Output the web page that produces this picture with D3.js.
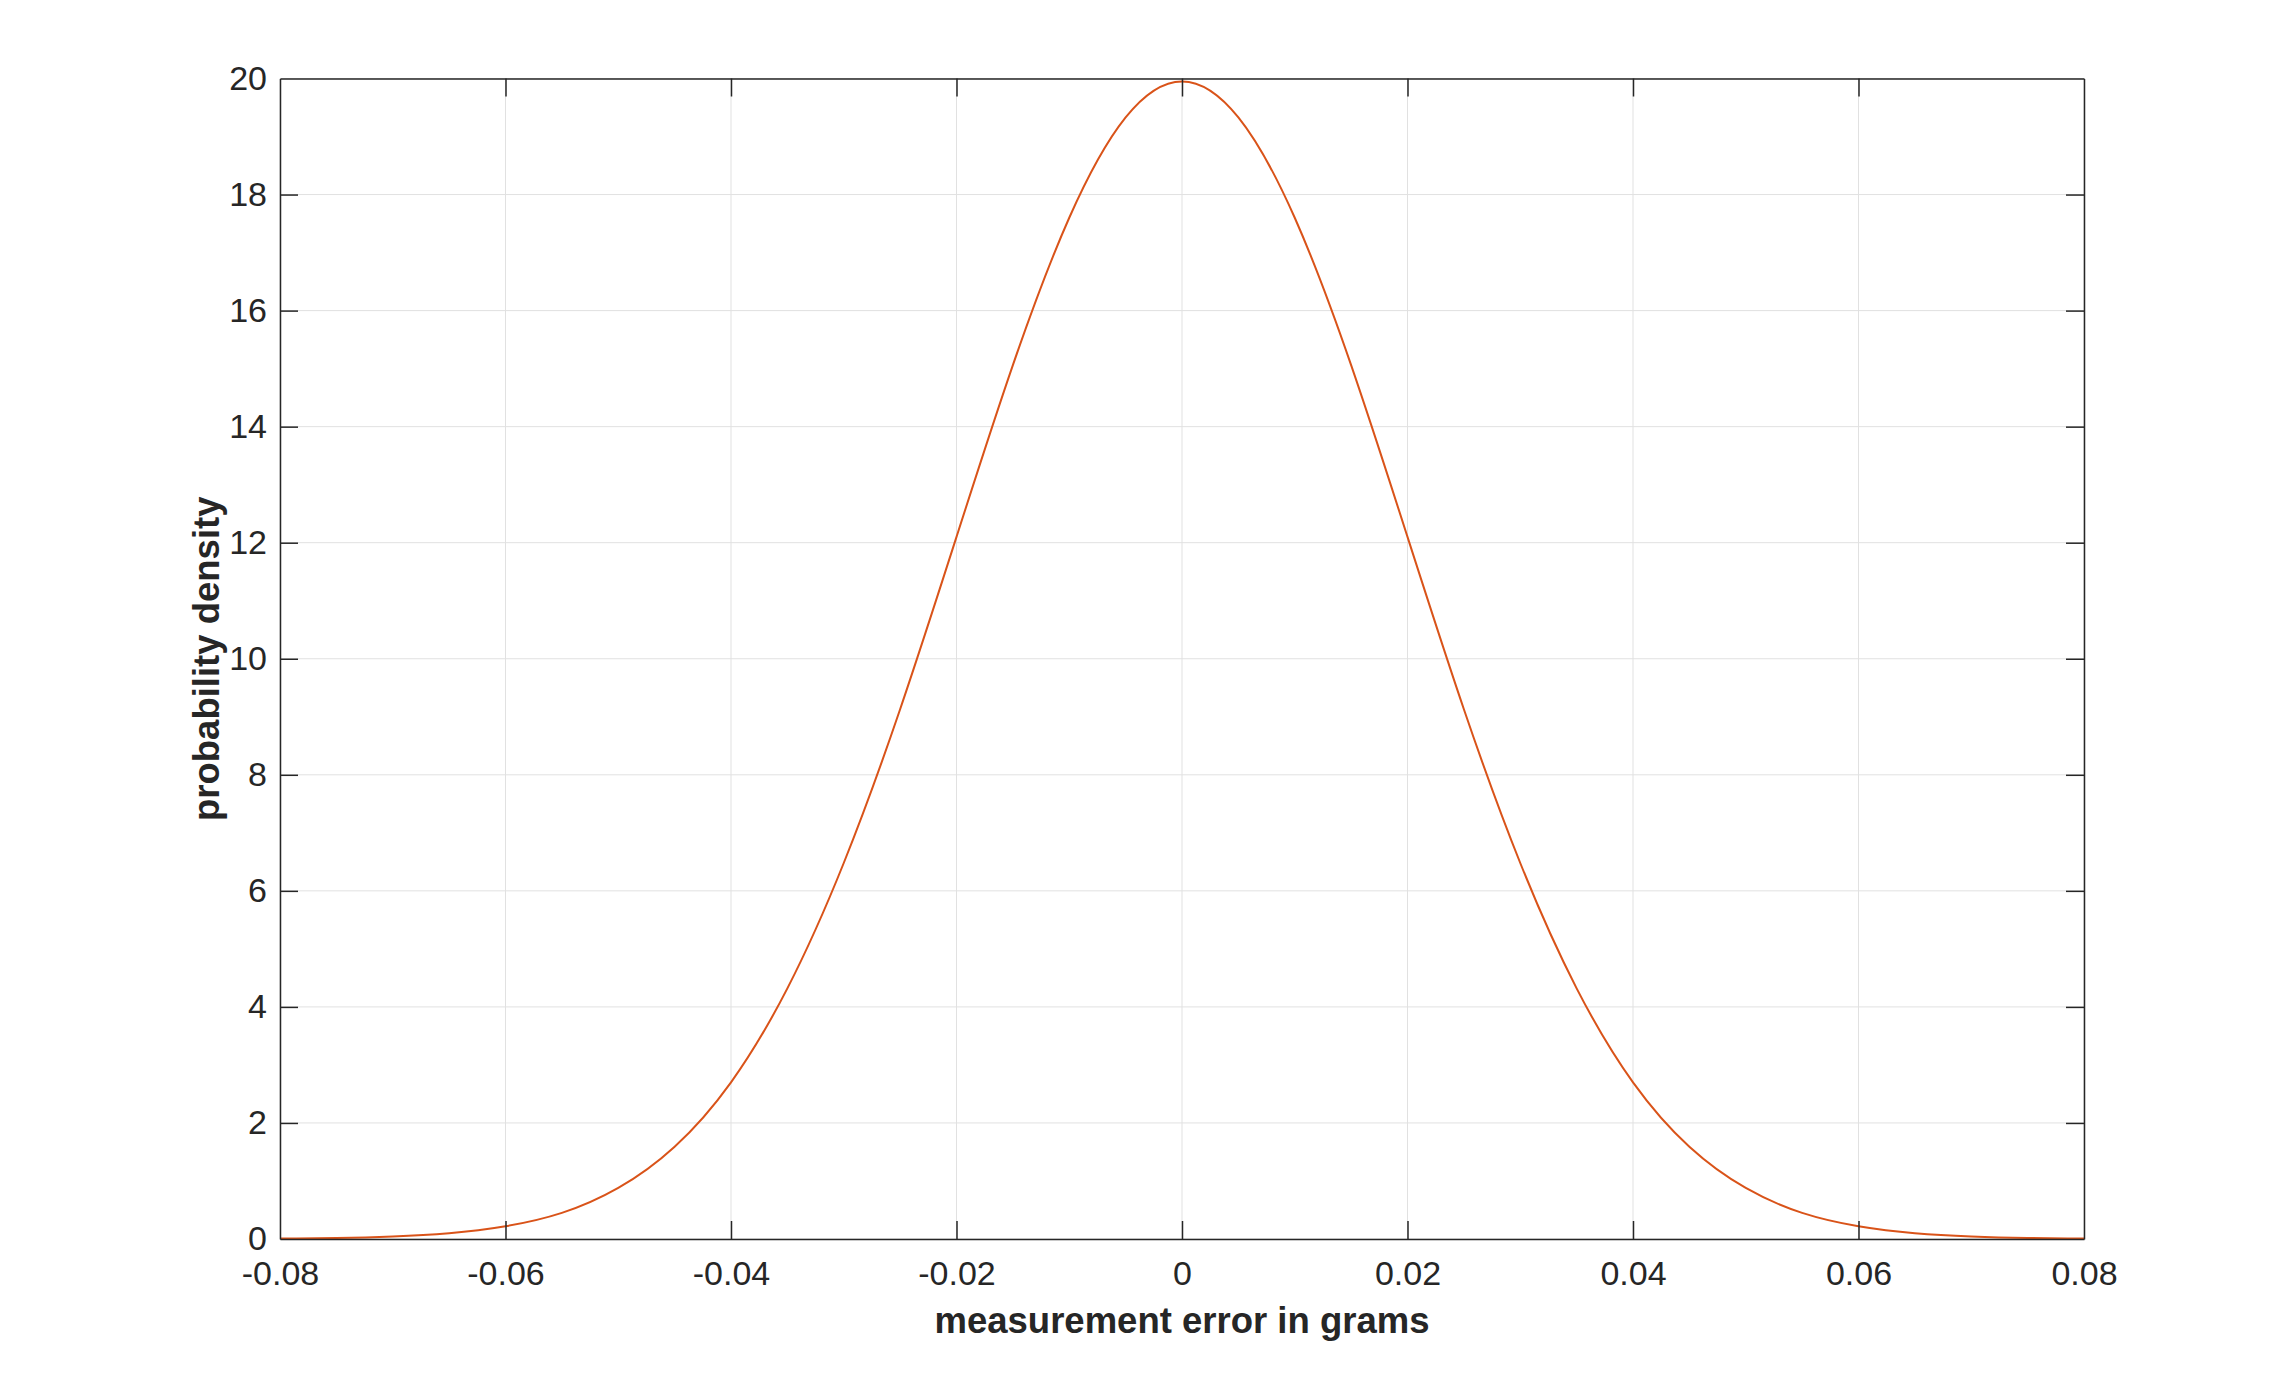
<!DOCTYPE html>
<html>
<head>
<meta charset="utf-8">
<script src="https://cdn.jsdelivr.net/npm/d3@7"></script>
<style>
  html, body { margin: 0; padding: 0; background: #ffffff; }
  svg { display: block; }
</style>
</head>
<body>
<svg id="chart" width="2284" height="1382"></svg>
<script>
// Data
const errorGrams = [-0.08, -0.075, -0.07, -0.065, -0.06, -0.055, -0.05, -0.045, -0.04, -0.035, -0.03, -0.025, -0.02, -0.015, -0.01, -0.005, 0,
                    0.005, 0.01, 0.015, 0.02, 0.025, 0.03, 0.035, 0.04, 0.045, 0.05, 0.055, 0.06, 0.065, 0.07, 0.075, 0.08];
const density = [0.007, 0.018, 0.044, 0.10, 0.22, 0.45, 0.88, 1.59, 2.70, 4.32, 6.48, 9.13, 12.10, 15.06, 17.60, 19.33, 19.95,
                 19.33, 17.60, 15.06, 12.10, 9.13, 6.48, 4.32, 2.70, 1.59, 0.88, 0.45, 0.22, 0.10, 0.044, 0.018, 0.007];
const xTicks = [-0.08, -0.06, -0.04, -0.02, 0, 0.02, 0.04, 0.06, 0.08];
const xTickLabels = ["-0.08", "-0.06", "-0.04", "-0.02", "0", "0.02", "0.04", "0.06", "0.08"];
const yTicks = [0, 2, 4, 6, 8, 10, 12, 14, 16, 18, 20];
const xLabel = "measurement error in grams";
const yLabel = "probability density";

const svg = d3.select("#chart");
const pLeft = 280, pRight = 2084, pTop = 78.5, pBottom = 1239;
const tickLen = 18;
const axisColor = "#262626";
const font = "Arial, 'Liberation Sans', Helvetica, sans-serif";

const x = d3.scaleLinear().domain([-0.08, 0.08]).range([pLeft, pRight]);
const y = d3.scaleLinear().domain([0, 20]).range([pBottom, pTop]);

// grid
const grid = svg.append("g");
grid.selectAll("line.gx").data(xTicks).join("line").attr("class", "gx")
  .attr("x1", d => x(d)).attr("x2", d => x(d)).attr("y1", pTop).attr("y2", pBottom)
  .attr("stroke", "#e1e1e1").attr("stroke-width", 1);
grid.selectAll("line.gy").data(yTicks).join("line").attr("class", "gy")
  .attr("y1", d => y(d)).attr("y2", d => y(d)).attr("x1", pLeft).attr("x2", pRight)
  .attr("stroke", "#e1e1e1").attr("stroke-width", 1);

// curve
const data = errorGrams.map((e, i) => ({ e, d: density[i] }));
svg.append("path").datum(data)
  .attr("d", d3.line().x(p => x(p.e)).y(p => y(p.d)).curve(d3.curveNatural))
  .attr("fill", "none").attr("stroke", "#D95319").attr("stroke-width", 2);

// axes
const fmt = d => xTickLabels[xTicks.indexOf(d)];
const gB = svg.append("g").attr("transform", `translate(0,${pBottom})`)
  .call(d3.axisBottom(x).tickValues(xTicks).tickFormat(fmt).tickSizeInner(-tickLen).tickSizeOuter(0).tickPadding(22));
const gT = svg.append("g").attr("transform", `translate(0,${pTop})`)
  .call(d3.axisTop(x).tickValues(xTicks).tickFormat("").tickSizeInner(-tickLen).tickSizeOuter(0));
const gL = svg.append("g").attr("transform", `translate(${pLeft},0)`)
  .call(d3.axisLeft(y).tickValues(yTicks).tickFormat(d3.format("d")).tickSizeInner(-tickLen).tickSizeOuter(0).tickPadding(13));
const gR = svg.append("g").attr("transform", `translate(${pRight},0)`)
  .call(d3.axisRight(y).tickValues(yTicks).tickFormat("").tickSizeInner(-tickLen).tickSizeOuter(0));

[gB, gT, gL, gR].forEach(g => {
  g.select(".domain").attr("stroke", axisColor).attr("stroke-width", 1.5);
  g.selectAll(".tick line").attr("stroke", axisColor).attr("stroke-width", 1.5);
  g.selectAll("text").attr("fill", axisColor).style("font-family", font).style("font-size", "34px");
});
gB.selectAll(".tick line").filter(d => d === -0.08 || d === 0.08).remove();
gT.selectAll(".tick line").filter(d => d === -0.08 || d === 0.08).remove();
gL.selectAll(".tick line").filter(d => d === 0 || d === 20).remove();
gR.selectAll(".tick line").filter(d => d === 0 || d === 20).remove();

// axis labels
svg.append("text")
  .attr("x", (pLeft + pRight) / 2).attr("y", 1333)
  .attr("text-anchor", "middle")
  .style("font-family", font).style("font-size", "36.5px").style("font-weight", "bold")
  .attr("fill", axisColor).text(xLabel);
svg.append("text")
  .attr("transform", `translate(219,${(pTop + pBottom) / 2}) rotate(-90)`)
  .attr("text-anchor", "middle")
  .style("font-family", font).style("font-size", "36.5px").style("font-weight", "bold")
  .attr("fill", axisColor).text(yLabel);
</script>
</body>
</html>
